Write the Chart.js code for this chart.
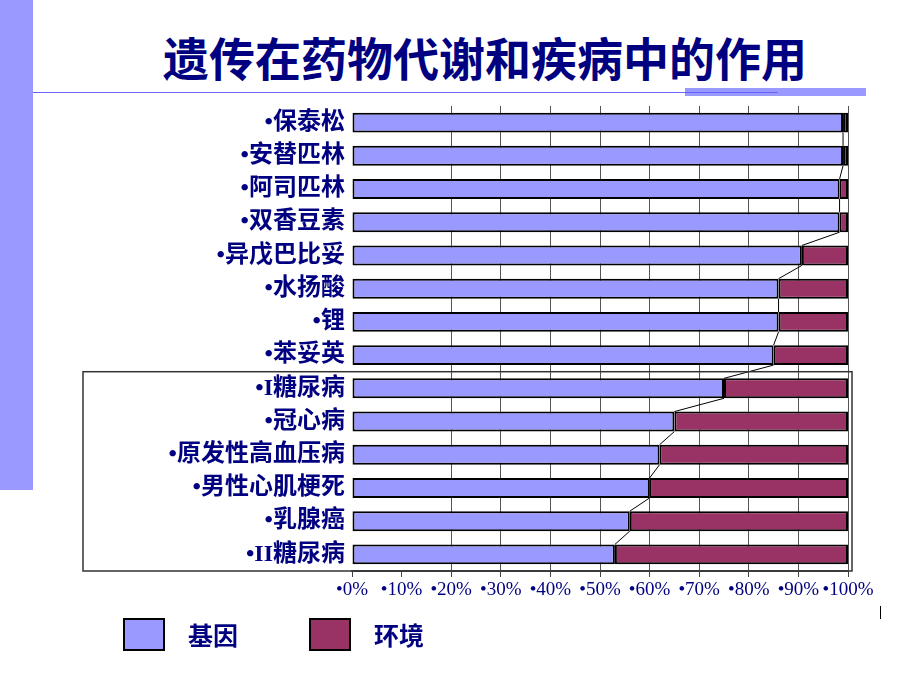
<!DOCTYPE html>
<html lang="zh">
<head>
<meta charset="utf-8">
<title>遗传在药物代谢和疾病中的作用</title>
<script src="https://cdn.jsdelivr.net/npm/chart.js@4.4.1/dist/chart.umd.min.js"></script>
<style>
    html, body {
        margin: 0;
        padding: 0;
        background: #fff;
    }
    body {
        width: 920px;
        height: 690px;
        position: relative;
        overflow: hidden;
        font-family: 'Noto Sans CJK SC', sans-serif;
    }
    .side-bar {
        position: absolute;
        left: 0;
        top: 0;
        width: 33px;
        height: 490px;
        background: #9999ff;
    }
    .rule-thick {
        position: absolute;
        left: 685px;
        top: 88px;
        width: 181px;
        height: 8px;
        background: #9999ff;
    }
    .rule {
        position: absolute;
        left: 33px;
        top: 92px;
        width: 745px;
        height: 1px;
        background: #6666ff;
    }
    .title {
        position: absolute;
        left: 0;
        top: 26px;
        width: 970px;
        text-align: center;
        font-size: 46px;
        line-height: 60px;
        font-weight: bold;
        color: #000080;
        margin: 0;
    }
    .chart-wrap {
        position: absolute;
        left: 0;
        top: 0;
        width: 920px;
        height: 690px;
    }
    .legend {
        position: absolute;
        left: 123px;
        top: 618px;
        display: flex;
        align-items: center;
    }
    .legend-item {
        display: flex;
        align-items: center;
        margin-right: 71px;
    }
    .legend-box {
        width: 42px;
        height: 33px;
        box-sizing: border-box;
        border: 2px solid #000;
    }
    .legend-text {
        margin-left: 23px;
        font-size: 25px;
        font-weight: bold;
        color: #000080;
        line-height: 33px;
    }
    .stub {
        position: absolute;
        left: 880px;
        top: 606px;
        width: 1px;
        height: 13px;
        background: #000;
    }
</style>
</head>
<body>
<div class="side-bar"></div>
<div class="rule-thick"></div>
<div class="rule"></div>
<h1 class="title">遗传在药物代谢和疾病中的作用</h1>
<div class="chart-wrap"><canvas id="bars" width="920" height="690"></canvas></div>
<div class="legend" id="legend"></div>
<div class="stub"></div>

<script>
    const categories = ['•保泰松', '•安替匹林', '•阿司匹林', '•双香豆素', '•异戊巴比妥', '•水扬酸', '•锂', '•苯妥英',
        '•I糖尿病', '•冠心病', '•原发性高血压病', '•男性心肌梗死', '•乳腺癌', '•II糖尿病'];
    const geneValues = [99, 99, 98.3, 98.3, 90.7, 86, 86, 85, 75, 65, 62, 60, 56, 53];
    const envValues = [1, 1, 1.7, 1.7, 9.3, 14, 14, 15, 25, 35, 38, 40, 44, 47];
    const tickLabels = ['•0%', '•10%', '•20%', '•30%', '•40%', '•50%', '•60%', '•70%', '•80%', '•90%', '•100%'];
    const seriesNames = ['基因', '环境'];
    const seriesColors = ['#9999ff', '#993366'];

    // first row inside the framed disease group
    const diseaseStart = 8;

    const navy = '#000080';

    // lines joining the ends of the gene bars
    const seriesLines = {
        id: 'seriesLines',
        afterDatasetsDraw(chart) {
            const bars = chart.getDatasetMeta(0).data;
            const ctx = chart.ctx;
            ctx.save();
            ctx.strokeStyle = '#000';
            ctx.lineWidth = 1;
            ctx.beginPath();
            for (let i = 0; i < bars.length - 1; i++) {
                const a = bars[i];
                const b = bars[i + 1];
                ctx.moveTo(a.x, a.y + a.height / 2);
                ctx.lineTo(b.x, b.y - b.height / 2);
            }
            ctx.stroke();
            ctx.restore();
        }
    };

    // box around the disease rows and their labels
    const groupFrame = {
        id: 'groupFrame',
        afterDraw(chart) {
            const y = chart.scales.y;
            const area = chart.chartArea;
            const top = (y.getPixelForValue(diseaseStart - 1) + y.getPixelForValue(diseaseStart)) / 2;
            const ctx = chart.ctx;
            ctx.save();
            ctx.strokeStyle = '#333';
            ctx.lineWidth = 1.5;
            ctx.strokeRect(83, top, area.right + 4 - 83, area.bottom - top);
            ctx.restore();
        }
    };

    const chart = new Chart(document.getElementById('bars').getContext('2d'), {
        type: 'bar',
        data: {
            labels: categories,
            datasets: [{
                label: seriesNames[0],
                data: geneValues,
                backgroundColor: seriesColors[0],
                borderColor: '#000',
                borderWidth: 2,
                borderSkipped: false
            }, {
                label: seriesNames[1],
                data: envValues,
                backgroundColor: seriesColors[1],
                borderColor: '#000',
                borderWidth: 2,
                borderSkipped: false
            }]
        },
        options: {
            indexAxis: 'y',
            responsive: false,
            animation: false,
            barPercentage: 0.6,
            categoryPercentage: 1.0,
            layout: {
                padding: {top: 106, right: 72, bottom: 89, left: 0}
            },
            scales: {
                x: {
                    stacked: true,
                    min: 0,
                    max: 100,
                    ticks: {
                        stepSize: 10,
                        padding: 2,
                        autoSkip: false,
                        maxRotation: 0,
                        minRotation: 0,
                        color: navy,
                        font: {family: "'Liberation Serif', 'Times New Roman', serif", size: 19},
                        callback: (value) => tickLabels[value / 10]
                    },
                    grid: {
                        color: (c) => (c.tick && c.tick.value <= 10) ? 'rgba(0,0,0,0)' : '#555',
                        tickColor: '#444',
                        tickLength: 6,
                        lineWidth: 1
                    },
                    border: {display: true, color: '#555', width: 2},
                    afterFit: (scale) => {
                        scale.height = 30;
                    }
                },
                y: {
                    stacked: true,
                    ticks: {
                        padding: 7,
                        color: navy,
                        font: {family: "'Liberation Serif', 'Noto Sans CJK SC', serif", size: 24, weight: 'bold'}
                    },
                    grid: {display: false, drawTicks: false},
                    border: {display: false},
                    afterFit: (scale) => {
                        scale.width = 352;
                    }
                }
            },
            plugins: {
                legend: {display: false},
                tooltip: {enabled: false}
            }
        },
        plugins: [seriesLines, groupFrame]
    });

    const legend = document.getElementById('legend');
    chart.data.datasets.forEach(ds => {
        const item = document.createElement('div');
        item.className = 'legend-item';
        item.innerHTML = '<div class="legend-box" style="background:' + ds.backgroundColor + '"></div>' +
            '<span class="legend-text">' + ds.label + '</span>';
        legend.appendChild(item);
    });
</script>
</body>
</html>
